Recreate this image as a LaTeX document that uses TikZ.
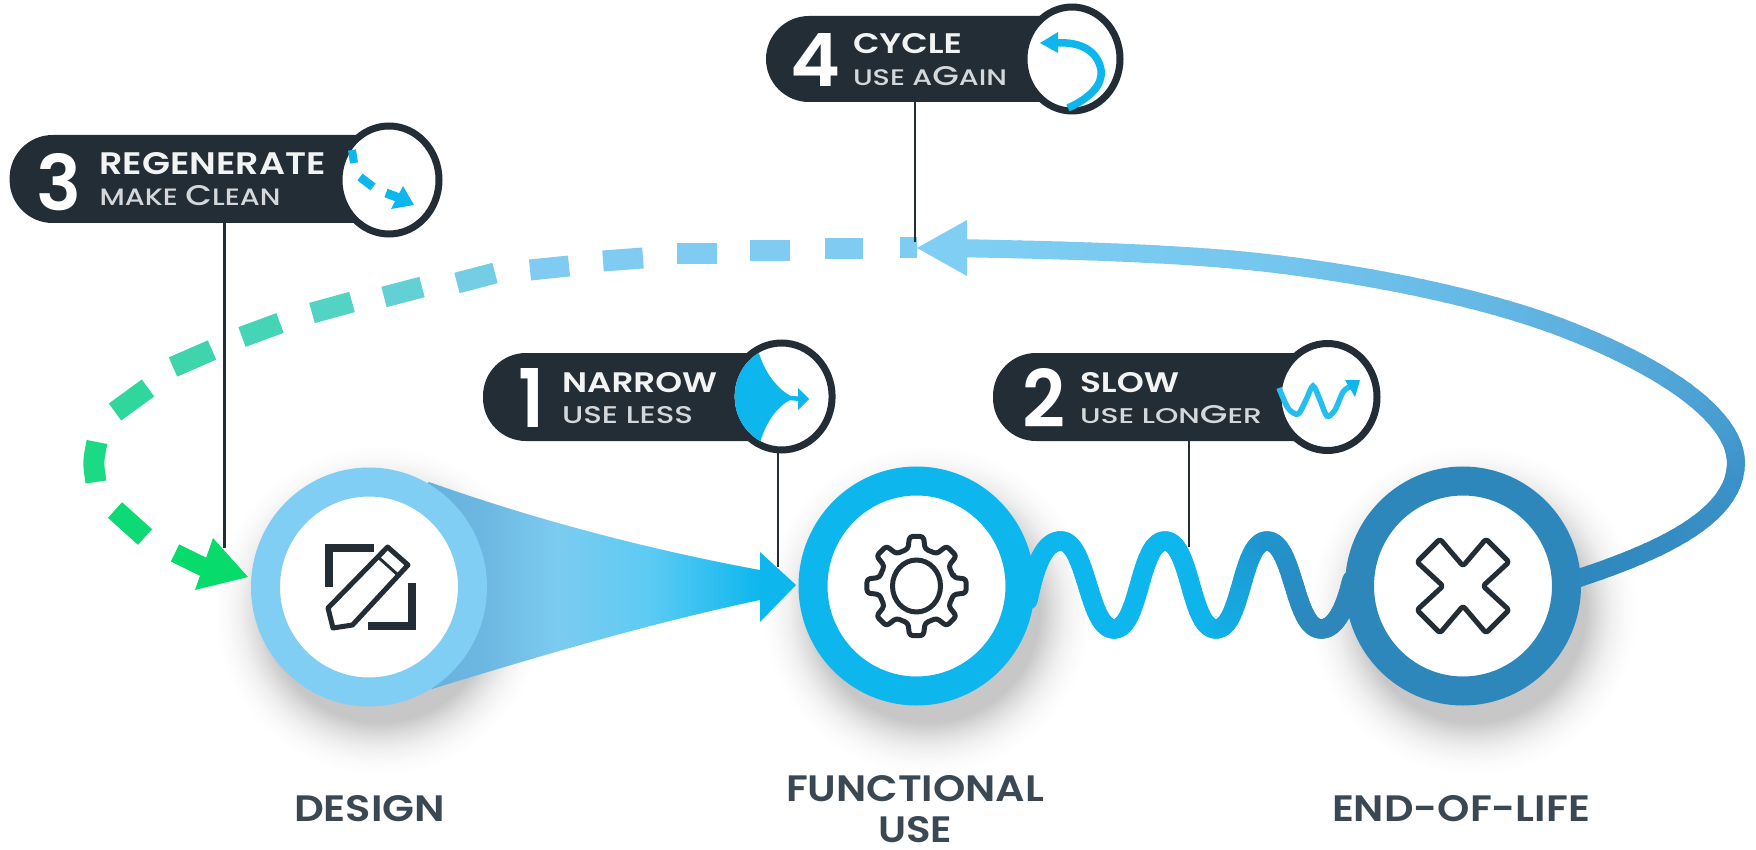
\documentclass[tikz,border=0pt]{standalone}
\usepackage{fontspec}
\usepackage{graphicx}
\setmainfont{Poppins}
\newfontfamily\pop{Poppins}
\newfontfamily\popm{Poppins Medium}
\newfontfamily\popsb{Poppins SemiBold}
\usetikzlibrary{shapes.geometric}
\definecolor{ink}{HTML}{232D35}
\definecolor{lbl}{HTML}{3A4853}
\definecolor{lightb}{HTML}{80CEF3}
\definecolor{cyanb}{HTML}{0DB7EE}
\definecolor{darkb}{HTML}{2D87BB}
\definecolor{arcb}{HTML}{3C93C9}
\definecolor{arcc}{HTML}{5DB0DF}
\definecolor{arcd}{HTML}{74C6EE}
\definecolor{wavem}{HTML}{1F96CF}
\definecolor{dl}{HTML}{7FCBF2}
\definecolor{dm}{HTML}{4CD4BE}
\definecolor{dg}{HTML}{06DB6B}
\definecolor{subt}{HTML}{D4D8DA}
\definecolor{titl}{HTML}{F2F3F3}
\definecolor{conea}{HTML}{66AEDB}
\definecolor{coneb}{HTML}{6DB8E3}
\definecolor{conec}{HTML}{7CCBF0}
\definecolor{coned}{HTML}{5DCBF3}
\pgfdeclareradialshading{softshadow}{\pgfpoint{0bp}{0bp}}{%
  color(0bp)=(black!22);color(17bp)=(black!22);color(19bp)=(black!13);color(21bp)=(black!6);color(23bp)=(black!2);color(25bp)=(white);color(50bp)=(white)}
\pgfdeclarehorizontalshading{conegrad}{100bp}{%
  color(0bp)=(conea);color(25bp)=(conea);color(36bp)=(coneb);color(46bp)=(conec);color(59bp)=(coned);color(75bp)=(cyanb);color(100bp)=(cyanb)}
\tikzset{
  declare function={bz(\t,\a,\b,\c,\d)=(1-\t)*(1-\t)*(1-\t)*\a+3*(1-\t)*(1-\t)*\t*\b+3*(1-\t)*\t*\t*\c+\t*\t*\t*\d;},
  ringnode/.style={ellipse,draw=#1,line width=29pt,fill=white,minimum width=207pt,minimum height=210pt,inner sep=0pt,outer sep=0pt},
  badge/.style={ellipse,draw=ink,line width=7pt,fill=white,inner sep=0pt,outer sep=0pt},
  pill/.style={rectangle,rounded corners=43pt,fill=ink,inner sep=0pt,outer sep=0pt,anchor=west},
  leader/.style={draw=ink,line width=2.5pt},
  txt/.style={inner sep=0pt,outer sep=0pt,anchor=north west},
  iconline/.style={draw=ink,line width=5pt,line join=round},
  mini/.style={draw=cyanb,line cap=butt}
}
\newcommand{\fitbox}[3]{\resizebox{#1pt}{#2pt}{#3}}
\newcommand{\bigch}[1]{{\fontsize{24}{24}\selectfont #1}}
\def\gradbez(#1,#2)(#3,#4)(#5,#6)(#7,#8)[#9]{%
  \foreach \ca/\cb in {#9}{%
    \foreach \i in {1,...,24}{%
      \pgfmathsetmacro\ta{(\i-1)/24}%
      \pgfmathsetmacro\tb{\i/24}%
      \pgfmathsetmacro\xa{bz(\ta,#1,#3,#5,#7)}%
      \pgfmathsetmacro\ya{bz(\ta,#2,#4,#6,#8)}%
      \pgfmathsetmacro\xb{bz(\tb,#1,#3,#5,#7)}%
      \pgfmathsetmacro\yb{bz(\tb,#2,#4,#6,#8)}%
      \pgfmathtruncatemacro\p{100*\i/24}%
      \draw[color=\cb!\p!\ca,line width=\rw pt,line cap=round] (\xa,\ya) -- (\xb,\yb);
    }%
  }%
}
\begin{document}
\begin{tikzpicture}[x=1pt,y=-1pt]
\useasboundingbox (0,0) rectangle (1756,850);
\fill[white] (0,0) rectangle (1756,850);
% shadows
\shade[shading=softshadow] (379,610) circle (165);
\shade[shading=softshadow] (927,610) circle (165);
\shade[shading=softshadow] (1473,610) circle (165);
% anchors
\coordinate (tipfour) at (917,248);
\coordinate (tipgreen) at (248,577);
\coordinate (tipone) at (796,585);
\coordinate (lone) at (778,567);
\coordinate (ltwo) at (1189,547);
\coordinate (lthree) at (224.6,548);
\coordinate (lfour) at (915,242);
% narrow cone
\shade[shading=conegrad] (410,500) -- (429,482) .. controls (536,520) and (651,550) .. (760,570) -- (760,600)
  .. controls (651,623) and (536,657) .. (432,689) -- (410,660) -- cycle;
\fill[cyanb] (tipone) -- (760,552) -- (760,622) -- cycle;
% wave
\def\rw{19.5}
\gradbez(1028,600)(1036,560)(1046,541)(1061,541)[cyanb/cyanb]
\gradbez(1061,541)(1087,541)(1088,629)(1114,629)[cyanb/cyanb]
\gradbez(1114,629)(1140,629)(1139,541)(1165,541)[cyanb/cyanb]
\gradbez(1165,541)(1191,541)(1190,629)(1216,629)[cyanb/cyanb!90!wavem]
\gradbez(1216,629)(1242,629)(1241,541)(1267,541)[cyanb!90!wavem/wavem]
\gradbez(1267,541)(1294,541)(1294,629)(1321,629)[wavem/darkb]
\gradbez(1321,629)(1335,629)(1345,610)(1352,580)[darkb/darkb]
% return arc
\def\rw{18}
\gradbez(1570,581)(1650,555)(1736,520)(1736,463)[darkb/arcb]
\gradbez(1736,463)(1736,415)(1660,365)(1560,327)[arcb/arcc]
\gradbez(1560,327)(1480,297)(1370,275)(1267,263)[arcc/arcd]
\gradbez(1267,263)(1180,253)(1060,250)(950,248)[arcd/lightb]
\fill[lightb] (tipfour) -- (967,220) -- (967,276) -- cycle;
% dashed regenerate loop
\foreach \xa/\ya/\xb/\yb/\c in {
  917/248/900/248/dl,
  863/249/825/249/dl,
  790/251/750/251/dl,
  717/254/677/254/dl,
  643/258/603/261/dl,
  569/266/530/270/dl,
  495/273/457/283/dl!75!dm,
  422/287/384/297/dl!45!dm,
  352/302/312/313/dl!12!dm,
  280/323/242/337/dm!90!dg,
  212/350/173/367/dm!80!dg,
  148/388/115/412/dm!60!dg,
  115/510/145/537/dm!12!dg}{
  \draw[color=\c,line width=21pt,line cap=butt] (\xa,\ya) -- (\xb,\yb);
}
\draw[color=dm!30!dg,line width=21pt,line cap=butt] (97,442) .. controls (93,462) .. (96,482);
\draw[dg,line width=19pt] (175,553) -- (220,575);
\fill[dg] (tipgreen) -- (213,538) -- (195,590) -- cycle;
% pills and leaders
\node[pill,minimum width=419pt,minimum height=88pt] (pthree) at (9.6,179) {};
\node[pill,minimum width=344pt,minimum height=86pt] (pfour) at (766,59) {};
\node[pill,minimum width=338pt,minimum height=88pt] (pone) at (483,397) {};
\node[pill,minimum width=374pt,minimum height=88pt] (ptwo) at (993,397) {};
\draw[leader] (pthree.south -| lthree) -- (lthree);
\draw[leader] (pfour.south -| lfour) -- (lfour);
\draw[leader] (ptwo.south -| ltwo) -- (ltwo);
% main rings
\node[ringnode=lightb] (design) at (369,587) {};
\node[ringnode=cyanb] (func) at (916.5,586) {};
\node[ringnode=darkb] (eol) at (1463,586) {};
% badges
\node[badge,minimum width=100pt,minimum height=108pt] (bthree) at (389,180) {};
\node[badge,minimum width=96pt,minimum height=104pt] (bfour) at (1072,59) {};
\node[badge,minimum width=101pt,minimum height=107pt] (bone) at (781.6,396.5) {};
\node[badge,minimum width=99pt,minimum height=107pt] (btwo) at (1327.5,397) {};
\draw[leader] (bone.south -| lone) -- (lone);
% design icon
\draw[ink,line width=8pt] (373.5,548) -- (329,548) -- (329,587);
\draw[ink,line width=8pt] (411.5,583) -- (411.5,626) -- (368,626);
\draw[iconline] (387.6,547) -- (408,565) -- (352.5,625) -- (333,628) -- (328,608) -- cycle;
\draw[ink,line width=3pt] (378,557) -- (398,575);
% gear
\begin{scope}[shift={(func.center)}]
\draw[iconline,rounded corners=3pt] (-13:38)
  \foreach \a in {0,45,...,315}{ -- ({\a-8}:50) -- ({\a+8}:50) -- ({\a+13}:38) -- ({\a+32}:38) } -- cycle;
\draw[iconline] (0,0) ellipse (24 and 26);
\end{scope}
% cross
\begin{scope}[shift={(eol.center)}]
\draw[iconline,rounded corners=2.5pt] (0,-20) -- (23,-47) -- (46,-24) -- (20,0) -- (46,24) -- (23,47) -- (0,20) -- (-23,47) -- (-46,24) -- (-20,0) -- (-46,-24) -- (-23,-47) -- cycle;
\end{scope}
% badge icons
\begin{scope}
\clip (bone.center) ellipse (47 and 50);
\fill[cyanb] (758,350) .. controls (765,375) and (780,392) .. (795,398) .. controls (780,403) and (765,420) .. (758,450) -- (720,450) -- (720,345) -- cycle;
\end{scope}
\draw[mini,line width=4.5pt] (790,398) -- (802,399);
\fill[cyanb] (809,399) -- (798,388) -- (798,410) -- cycle;
\draw[draw=cyanb!90!white,line width=5.5pt,smooth,line cap=butt] plot coordinates {(1279,388) (1288,408) (1298,414) (1306,400) (1313,386) (1320,400) (1327,416) (1335,410) (1343,392) (1351,386)};
\fill[cyanb] (1360,380) -- (1345,380) -- (1355,397) -- cycle;
\draw[mini,line width=8pt] (352,150) -- (354,163);
\draw[mini,line width=8.5pt] (360,177) -- (373,187);
\draw[mini,line width=9pt] (386,193) -- (402,199);
\fill[cyanb] (414,205) -- (403,186) -- (391,209) -- cycle;
\draw[mini,line width=7.5pt] (1068,108) .. controls (1090,98) and (1103,85) .. (1101,70) .. controls (1098,52) and (1082,41) .. (1055,43);
\fill[cyanb] (1040,43) -- (1058,32) -- (1058,53) -- cycle;
% pill texts
\node[txt,text=white] (nthree) at (36,153) {\fitbox{45}{57}{\popsb 3}};
\node[txt,text=titl] (tthree) at (99.5,152) {\fitbox{226}{22}{\popsb REGENERATE}};
\node[txt,text=subt] (sthree) at (99.5,185) {\fitbox{181}{20}{\popm\fontsize{20}{20}\selectfont MAKE \bigch{C}LEAN}};
\node[txt,text=white] (nfour) at (790,33) {\fitbox{50}{53}{\popsb 4}};
\node[txt,text=titl] (tfour) at (853,33) {\fitbox{109}{20}{\popsb CYCLE}};
\node[txt,text=subt] (sfour) at (853,67) {\fitbox{154}{19}{\popm\fontsize{20}{20}\selectfont USE A\bigch{G}AIN}};
\node[txt,text=white] (none) at (518,368) {\fitbox{26}{59}{\popsb 1}};
\node[txt,text=titl] (tone) at (562,372) {\fitbox{155}{20}{\popsb NARROW}};
\node[txt,text=subt] (sone) at (562,406) {\fitbox{131}{17}{\popm\fontsize{20}{20}\selectfont USE LESS}};
\node[txt,text=white] (ntwo) at (1022,368) {\fitbox{43}{59}{\popsb 2}};
\node[txt,text=titl] (ttwo) at (1080,372) {\fitbox{99}{20}{\popsb SLOW}};
\node[txt,text=subt] (stwo) at (1080,405) {\fitbox{182}{18}{\popm\fontsize{20}{20}\selectfont USE LON\bigch{G}ER}};
% bottom labels
\node[txt,text=lbl] (ldesign) at (294,795) {\fitbox{151}{26}{\popsb DESIGN}};
\node[txt,text=lbl] (lfunc) at (786,775) {\fitbox{258}{26}{\popsb FUNCTIONAL}};
\node[txt,text=lbl] (luse) at (878,816) {\fitbox{74}{26}{\popsb USE}};
\node[txt,text=lbl] (leol) at (1332,795) {\fitbox{258}{26}{\popsb END-OF-LIFE}};
\end{tikzpicture}
\end{document}
